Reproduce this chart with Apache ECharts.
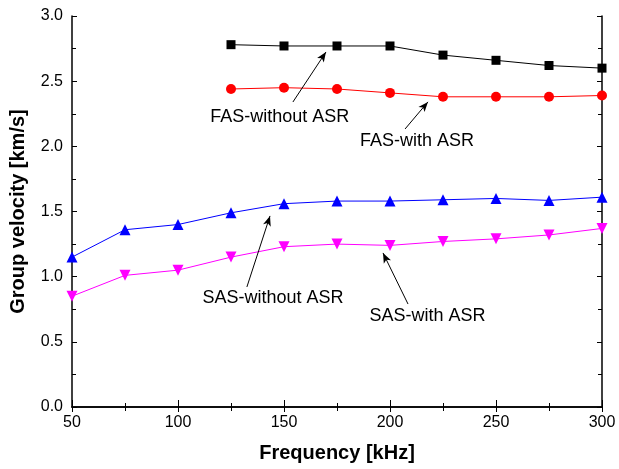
<!DOCTYPE html>
<html>
<head>
<meta charset="utf-8">
<script src="https://cdn.jsdelivr.net/npm/echarts@6/dist/echarts.min.js"></script>
<style>
  html, body { margin: 0; padding: 0; background: #fff; }
  #chart { width: 619px; height: 469px; }
</style>
</head>
<body>
<div id="chart"></div>
<script>
// Frequency points (kHz)
const freqAll = [50, 75, 100, 125, 150, 175, 200, 225, 250, 275, 300];
const freqFAS = [125, 150, 175, 200, 225, 250, 275, 300];

// Group velocity (km/s)
const fasWithoutASR = [2.78, 2.77, 2.77, 2.77, 2.70, 2.66, 2.62, 2.60];
const fasWithASR    = [2.44, 2.45, 2.44, 2.41, 2.38, 2.38, 2.38, 2.39];
const sasWithoutASR = [1.15, 1.36, 1.40, 1.49, 1.56, 1.58, 1.58, 1.59, 1.60, 1.585, 1.61];
const sasWithASR    = [0.85, 1.01, 1.05, 1.15, 1.23, 1.25, 1.24, 1.27, 1.29, 1.32, 1.37];

// Callout labels: text anchor, arrow tail, arrow tip (in data units)
const calloutText = ['FAS-without ASR', 'FAS-with ASR', 'SAS-without ASR', 'SAS-with ASR'];
const calloutAt   = [[148, 2.225], [212.7, 2.04], [144.8, 0.836], [217.7, 0.698]];
const arrowFrom   = [[154.2, 2.34], [207.1, 2.133], [132.5, 0.921], [208.5, 0.79]];
const arrowTo     = [[169.8, 2.724], [217.9, 2.341], [143.4, 1.466], [196.7, 1.182]];

const FONT = '"Liberation Sans", Arial, sans-serif';
const zip = (xs, ys) => xs.map((x, i) => [x, ys[i]]);

function series(name, xs, ys, color, symbol, size, rotate) {
  return {
    name, type: 'line', data: zip(xs, ys),
    symbol, symbolSize: size, symbolRotate: rotate || 0,
    itemStyle: { color },
    lineStyle: { color, width: 1 },
    z: 3
  };
}

const calloutSeries = {
  type: 'scatter', data: [], silent: true,
  markLine: {
    silent: true, animation: false,
    symbol: ['none', 'arrow'], symbolSize: [6, 10],
    lineStyle: { color: '#000', width: 1, type: 'solid' },
    label: { show: false },
    data: arrowFrom.map((p, i) => [{ coord: p }, { coord: arrowTo[i] }])
  },
  markPoint: {
    silent: true, animation: false,
    symbol: 'circle', symbolSize: 0,
    label: { show: true, position: 'inside', color: '#000', fontSize: 18, fontFamily: FONT,
             formatter: p => p.name },
    data: calloutText.map((t, i) => ({ name: t, coord: calloutAt[i] }))
  }
};

const axisLineStyle = { show: true, lineStyle: { color: '#000', width: 1.5 } };

const chart = echarts.init(document.getElementById('chart'), null, { renderer: 'canvas' });
chart.setOption({
  animation: false,
  backgroundColor: '#fff',
  grid: { left: 72, right: 17, top: 16, bottom: 62 },
  xAxis: [{
    type: 'value', min: 50, max: 300, interval: 50,
    axisLine: axisLineStyle,
    axisTick: { show: true, inside: true, length: 7, lineStyle: { color: '#000', width: 1 } },
    minorTick: { show: true, splitNumber: 2, length: 4, lineStyle: { color: '#000', width: 1 } },
    splitLine: { show: false },
    axisLabel: { color: '#000', fontSize: 16, fontFamily: FONT, margin: 8 },
    name: 'Frequency [kHz]', nameLocation: 'middle', nameGap: 36,
    nameTextStyle: { color: '#000', fontSize: 20, fontWeight: 'bold', fontFamily: FONT }
  }, {
    type: 'value', position: 'top', min: 50, max: 300, interval: 50,
    axisLine: axisLineStyle,
    axisTick: { show: true, inside: true, length: 5, lineStyle: { color: '#000', width: 1 } },
    minorTick: { show: true, splitNumber: 2, length: 4, lineStyle: { color: '#000', width: 1 } },
    splitLine: { show: false }, axisLabel: { show: false }
  }],
  yAxis: [{
    type: 'value', min: 0, max: 3, interval: 0.5,
    axisLine: axisLineStyle,
    axisTick: { show: true, inside: true, length: 5, lineStyle: { color: '#000', width: 1 } },
    minorTick: { show: true, splitNumber: 2, length: 4, lineStyle: { color: '#000', width: 1 } },
    splitLine: { show: false },
    axisLabel: { color: '#000', fontSize: 16, fontFamily: FONT, margin: 9,
                 formatter: v => v.toFixed(1) },
    name: 'Group velocity [km/s]', nameLocation: 'middle', nameGap: 44,
    nameTextStyle: { color: '#000', fontSize: 20, fontWeight: 'bold', fontFamily: FONT }
  }, {
    type: 'value', position: 'right', min: 0, max: 3, interval: 0.5,
    axisLine: axisLineStyle,
    axisTick: { show: true, inside: true, length: 5, lineStyle: { color: '#000', width: 1 } },
    minorTick: { show: true, splitNumber: 2, length: 4, lineStyle: { color: '#000', width: 1 } },
    splitLine: { show: false }, axisLabel: { show: false }
  }],
  series: [
    series('FAS-without ASR', freqFAS, fasWithoutASR, '#000000', 'rect', 9),
    series('FAS-with ASR', freqFAS, fasWithASR, '#ff0000', 'circle', 10),
    series('SAS-without ASR', freqAll, sasWithoutASR, '#0000ff', 'triangle', 11),
    series('SAS-with ASR', freqAll, sasWithASR, '#ff00ff', 'triangle', 11, 180),
    calloutSeries
  ]
});
</script>
</body>
</html>
